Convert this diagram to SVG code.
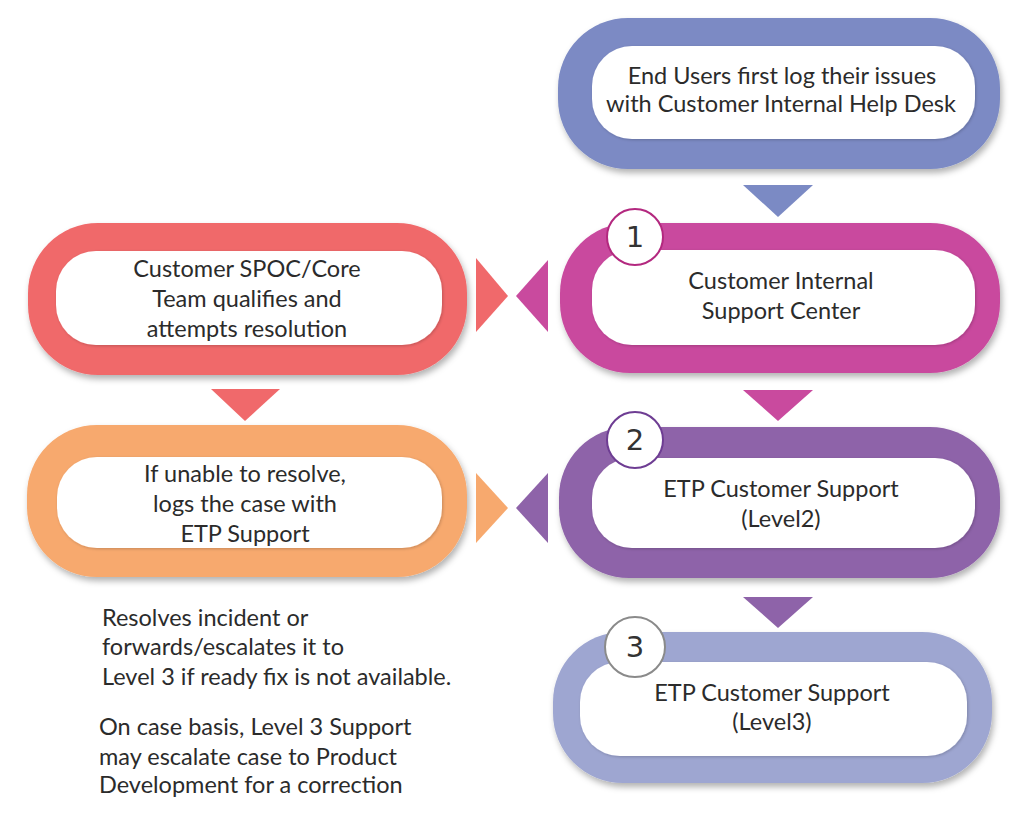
<svg xmlns="http://www.w3.org/2000/svg" width="1024" height="827" viewBox="0 0 1024 827">
<style>
.t{font-family:Lato,"Noto Sans","Liberation Sans",sans-serif;font-size:23.5px;fill:#2b2b2b;text-anchor:middle}
.l{font-family:Lato,"Noto Sans","Liberation Sans",sans-serif;font-size:23.5px;fill:#2b2b2b}
.n{font-family:"DejaVu Sans","Liberation Sans",sans-serif;font-size:29px;fill:#333;text-anchor:middle}
.in{fill:#fff}
.num{fill:#fff;stroke-width:2}
</style>
<defs>
<filter id="sh" x="-10%" y="-10%" width="125%" height="130%">
<feDropShadow dx="2" dy="4" stdDeviation="3" flood-color="#000" flood-opacity="0.3"/>
</filter>
<filter id="ish" x="-10%" y="-10%" width="125%" height="130%">
<feDropShadow dx="1" dy="1" stdDeviation="1.5" flood-color="#000" flood-opacity="0.2"/>
</filter>
</defs>
<rect width="1024" height="827" fill="#fff"/>

<g id="connectors">
<polygon points="743,185 813,185 778,217" fill="#7b8ac4"/>
<polygon points="743,390 813,390 778,421" fill="#c94a9e"/>
<polygon points="743,597 813,597 778,628" fill="#8e63a9"/>
<polygon points="211,389 280,389 245,421" fill="#f0696b"/>
<polygon points="476,258 476,332 508,296" fill="#f0696b"/>
<polygon points="548,260 548,332 516,296" fill="#c94a9e"/>
<polygon points="476,473 476,543 508,508" fill="#f7a96e"/>
<polygon points="548,473 548,543 516,508" fill="#8e63a9"/>
</g>

<g id="node-helpdesk">
<rect x="558" y="18" width="442" height="151" rx="70" fill="#7b8ac4" filter="url(#sh)"/>
<rect x="592" y="46" width="383" height="93" rx="40" class="in" filter="url(#ish)"/>
<text class="t" x="782" y="84">End Users first log their issues</text>
<text class="t" x="781" y="112">with Customer Internal Help Desk</text>
</g>

<g id="node-internal">
<rect x="560" y="223" width="440" height="150" rx="70" fill="#c94a9e" filter="url(#sh)"/>
<rect x="592" y="250" width="383" height="95" rx="40" class="in" filter="url(#ish)"/>
<circle cx="635" cy="237" r="28" class="num" stroke="#b3287f"/>
<text class="n" x="635" y="247">1</text>
<text class="t" x="781" y="289">Customer Internal</text>
<text class="t" x="781" y="319">Support Center</text>
</g>

<g id="node-spoc">
<rect x="28" y="223" width="439" height="152" rx="70" fill="#f0696b" filter="url(#sh)"/>
<rect x="56" y="251" width="386" height="94" rx="40" class="in" filter="url(#ish)"/>
<text class="t" x="247" y="277">Customer SPOC/Core</text>
<text class="t" x="247" y="307">Team qualifies and</text>
<text class="t" x="247" y="337">attempts resolution</text>
</g>

<g id="node-logs">
<rect x="27" y="425" width="440" height="152" rx="70" fill="#f7a96e" filter="url(#sh)"/>
<rect x="57" y="457" width="385" height="91" rx="40" class="in" filter="url(#ish)"/>
<text class="t" x="245" y="482">If unable to resolve,</text>
<text class="t" x="245" y="512">logs the case with</text>
<text class="t" x="245" y="542">ETP Support</text>
</g>

<g id="node-level2">
<rect x="559" y="427" width="441" height="151" rx="70" fill="#8e63a9" filter="url(#sh)"/>
<rect x="592" y="458" width="383" height="90" rx="40" class="in" filter="url(#ish)"/>
<circle cx="635" cy="440" r="28" class="num" stroke="#6e3d93"/>
<text class="n" x="635" y="450">2</text>
<text class="t" x="781" y="497">ETP Customer Support</text>
<text class="t" x="781" y="527">(Level2)</text>
</g>

<g id="node-level3">
<rect x="553" y="632" width="439" height="151" rx="70" fill="#9ea6d1" filter="url(#sh)"/>
<rect x="580" y="662" width="387" height="94" rx="40" class="in" filter="url(#ish)"/>
<circle cx="635" cy="647" r="30" class="num" stroke="#8a8a8a"/>
<text class="n" x="635" y="657">3</text>
<text class="t" x="772" y="701">ETP Customer Support</text>
<text class="t" x="772" y="730">(Level3)</text>
</g>

<g id="notes">
<text class="l" x="102" y="626">Resolves incident or</text>
<text class="l" x="102" y="655">forwards/escalates it to</text>
<text class="l" x="102" y="685">Level 3 if ready fix is not available.</text>
<text class="l" x="99" y="735">On case basis, Level 3 Support</text>
<text class="l" x="99" y="765">may escalate case to Product</text>
<text class="l" x="99" y="793">Development for a correction</text>
</g>
</svg>
